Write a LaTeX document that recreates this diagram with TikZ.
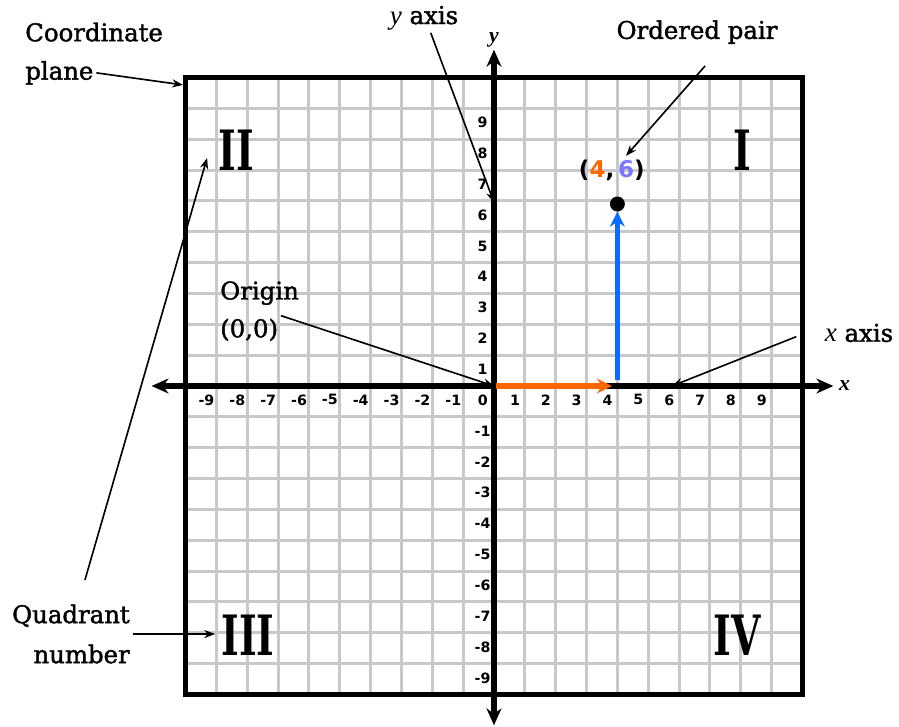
\documentclass[tikz,border=0pt]{standalone}
\usepackage{fontspec}
\setmainfont{DejaVu Serif}
\newfontfamily\calloutfont[FakeBold=1.6]{DejaVu Serif}
\newfontfamily\ticksfont{DejaVu Sans}
\newfontfamily\letterfont{Liberation Serif}
\usetikzlibrary{arrows.meta, positioning, calc}
\definecolor{gridgray}{RGB}{200,200,200}
\definecolor{xorange}{RGB}{255,102,0}
\definecolor{yviolet}{RGB}{122,118,255}
\definecolor{arrowblue}{RGB}{10,108,255}
\tikzset{
  gridline/.style={draw=gridgray, line width=2.2pt},
  frame/.style={draw=black, line width=3.7pt},
  axisline/.style={draw=black, line width=4pt,
    {Stealth[length=12.5pt,width=11pt]}-{Stealth[length=12.5pt,width=11pt]}},
  ticklabel/.style={font=\ticksfont\bfseries\fontsize{10.5}{10.5}\selectfont, inner sep=0pt},
  callout/.style={font=\calloutfont\fontsize{18}{29.5}\selectfont, inner sep=2pt},
  pointer/.style={draw, line width=1.2pt, -{Stealth[length=8pt,width=6pt]}},
  quadrant/.style={font=\bfseries\fontsize{41}{41}\selectfont, inner sep=0pt},
  moveline/.style={line width=3.8pt, -{Stealth[length=11pt,width=11pt]}},
  axisname/.style={font=\letterfont\bfseries\itshape\fontsize{16}{16}\selectfont, inner sep=1pt},
}
\newcommand{\ital}[1]{{\letterfont\itshape\fontsize{20}{20}\selectfont #1}}

\begin{document}
\begin{tikzpicture}[x=0.8cm, y=0.8cm]
  \useasboundingbox (-16.013,-11.053) rectangle (13.128,12.512);

  % Grid
  \foreach \i in {-9,...,9} {
    \draw[gridline] (\i,-10) -- (\i,10);
    \draw[gridline] (-10,\i) -- (10,\i);
  }
  \draw[frame] (-10,-10) rectangle (10,10);

  % Axes
  \coordinate (O) at (0,0);
  \coordinate (xleft) at (-11.1,0);
  \coordinate (xright) at (11.0,0);
  \coordinate (ybot) at (0,-11.0);
  \coordinate (ytop) at (0,10.9);
  \draw[axisline] (xleft) -- (xright);
  \draw[axisline] (ybot) -- (ytop);
  \node[axisname, right=3pt of xright] (xname) {x};
  \node[axisname, above=1pt of ytop] (yname) {y};

  % Tick labels
  \foreach \i in {1,...,9} {
    \node[ticklabel] (xtp\i) at (\i-0.32,-0.45) {\i};
    \node[ticklabel] (xtn\i) at (-\i-0.32,-0.45) {-\i};
    \node[ticklabel] (ytp\i) at (-0.37,\i-0.46) {\i};
    \node[ticklabel] (ytn\i) at (-0.37,-\i-0.46) {-\i};
  }
  \node[ticklabel] (zero) at (-0.36,-0.45) {0};

  % Quadrant numbers
  \node[quadrant] (qI) at (8.04,7.65) {\scalebox{0.68}[1]{I}};
  \node[quadrant] (qII) at (-8.36,7.65) {\scalebox{0.68}[1]{II}};
  \node[quadrant] (qIII) at (-7.97,-8.07) {\scalebox{0.68}[1]{III}};
  \node[quadrant] (qIV) at (7.88,-8.07) {\scalebox{0.68}[1]{IV}};

  % Ordered pair (4,6)
  \coordinate (xstart) at (0.08,0);
  \coordinate (xfoot) at (3.82,0);
  \coordinate (yfoot) at (4,0.2);
  \node[circle, fill=black, inner sep=0pt, minimum size=11pt] (pt) at (4,5.9) {};
  \draw[moveline, xorange] (xstart) -- (xfoot);
  \draw[moveline, arrowblue] (yfoot) -- (pt.south);
  \node[font=\ticksfont\bfseries\fontsize{17}{17}\selectfont, inner sep=1pt] (pairlbl) at (3.82,7.0)
    {(\textcolor{xorange}{4},\,\textcolor{yviolet}{6})};

  % Callouts
  \node[callout, anchor=west] (coordtxt) at (-15.29,11.47) {Coordinate};
  \node[callout, anchor=west] (planetxt) at (-15.29,10.15) {plane};
  \coordinate (cornertip) at (-10.08,9.76);
  \draw[pointer] (planetxt.east) -- (cornertip);

  \node[callout] (yaxislbl) at (-2.27,11.93) {\ital{y} axis};
  \coordinate (ytip) at (0,5.95);
  \draw[pointer] ([xshift=5pt]yaxislbl.south) -- (ytip);

  \node[callout] (pairname) at (6.58,11.47) {Ordered pair};
  \coordinate (pairtip) at (4.28,7.46);
  \draw[pointer] ([xshift=6pt,yshift=-14pt]pairname.south) -- (pairtip);

  \node[callout, anchor=west] (originlbl) at (-8.97,3.01) {Origin};
  \node[callout, anchor=west] (zerolbl) at (-8.97,1.82) {(0,0)};
  \draw[pointer] (zerolbl.north east) -- (O);

  \node[callout] (xaxislbl) at (11.83,1.72) {\ital{x} axis};
  \coordinate (xtail) at (9.8,1.6);
  \coordinate (xtip) at (5.77,0);
  \draw[pointer] (xtail) -- (xtip);

  \node[callout, align=right, anchor=east] (quadlbl) at (-11.71,-8.04) {Quadrant\\number};
  \coordinate (qIIItip) at (-9.04,-8.04);
  \coordinate (quadtail) at (-13.26,-6.29);
  \coordinate (qIItip) at (-9.30,7.39);
  \draw[pointer] (quadlbl.east) -- (qIIItip);
  \draw[pointer] (quadtail) -- (qIItip);

\end{tikzpicture}
\end{document}
